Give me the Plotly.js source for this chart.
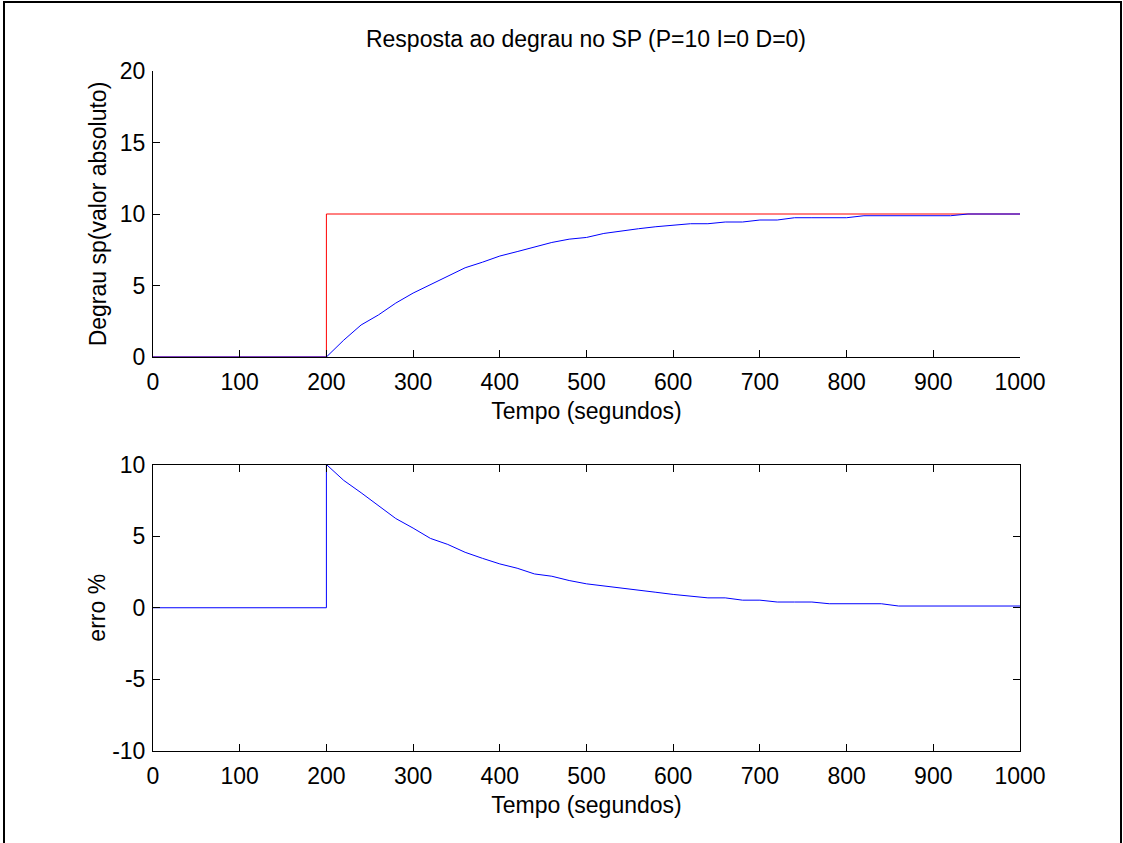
<!DOCTYPE html>
<html>
<head>
<meta charset="utf-8">
<script src="https://cdn.plot.ly/plotly-3.0.1.min.js"></script>
<style>
  html, body { margin: 0; padding: 0; background: #fff; }
  #wrap { position: relative; width: 1123px; height: 843px; }
  #chart { width: 1123px; height: 843px; }
  #frame { position: absolute; left: 3px; top: 1px; width: 1115px; height: 850px;
           border-left: 2px solid #000; border-top: 2px solid #000; border-right: 2px solid #000;
           pointer-events: none; }
</style>
</head>
<body>
<div id="wrap">
  <div id="chart"></div>
  <div id="frame"></div>
</div>
<script>
// ---- data ----
const spTime  = [0, 200, 200, 1000];
const spValue = [0, 0, 10, 10];

const respTime = [0, 100, 200, 220, 240, 260, 280, 300, 320, 340, 360, 380, 400, 420, 440, 460, 480, 500,
                  520, 540, 560, 580, 600, 620, 640, 660, 680, 700, 720, 740, 760, 780, 800,
                  820, 840, 860, 880, 900, 920, 940, 960, 980, 1000];
const respValue = [0, 0, 0, 1.18, 2.24, 2.94, 3.77, 4.47, 5.05, 5.65, 6.24, 6.63, 7.06, 7.37, 7.70, 8.01, 8.24, 8.36,
                   8.64, 8.83, 8.97, 9.11, 9.23, 9.32, 9.32, 9.44, 9.44, 9.58, 9.58, 9.74, 9.74, 9.74, 9.74,
                   9.88, 9.88, 9.88, 9.88, 9.88, 9.88, 10, 10, 10, 10];

const errTime = [0, 100, 200, 200, 220, 240, 260, 280, 300, 320, 340, 360, 380, 400, 420, 440, 460, 480, 500,
                 520, 540, 560, 580, 600, 620, 640, 660, 680, 700, 720, 740, 760, 780, 800,
                 820, 840, 860, 880, 900, 920, 940, 960, 980, 1000];
const errValue = [0, 0, 0, 10, 8.89, 8.03, 7.15, 6.23, 5.56, 4.84, 4.42, 3.87, 3.45, 3.06, 2.76, 2.36, 2.20, 1.90, 1.67,
                  1.53, 1.41, 1.24, 1.08, 0.93, 0.80, 0.69, 0.69, 0.53, 0.53, 0.40, 0.40, 0.40, 0.28, 0.28,
                  0.28, 0.28, 0.12, 0.12, 0.12, 0.12, 0.12, 0.12, 0.12, 0.12];

const xTicks = [0, 100, 200, 300, 400, 500, 600, 700, 800, 900, 1000];
const yTicksTop = [0, 5, 10, 15, 20];
const yTicksBottom = [-10, -5, 0, 5, 10];

const titleText = 'Resposta ao degrau no SP (P=10 I=0 D=0)';
const xLabel = 'Tempo (segundos)';
const yLabelTop = 'Degrau sp(valor absoluto)';
const yLabelBottom = 'erro %';

// ---- chart ----
const FONT = 'Liberation Sans, Arial, Helvetica, sans-serif';
const fnt = {family: FONT, size: 23, color: '#000'};

const traces = [
  {x: spTime, y: spValue, type: 'scatter', mode: 'lines', line: {color: '#ff0000', width: 1}, xaxis: 'x', yaxis: 'y', hoverinfo: 'skip'},
  {x: respTime, y: respValue, type: 'scatter', mode: 'lines', line: {color: '#0000ff', width: 1}, xaxis: 'x', yaxis: 'y', hoverinfo: 'skip'},
  {x: errTime, y: errValue, type: 'scatter', mode: 'lines', line: {color: '#0000ff', width: 1}, xaxis: 'x2', yaxis: 'y2', hoverinfo: 'skip'}
];

const W = 1123, H = 843;
const xDom = [153 / W, 1020 / W];

const commonX = {
  range: [0, 1000], tickvals: xTicks, ticktext: xTicks.map(String),
  ticks: 'inside', ticklen: 7, tickwidth: 1, tickcolor: '#000',
  showline: true, linecolor: '#000', linewidth: 1,
  showgrid: false, zeroline: false, tickfont: fnt, automargin: false,
  ticklabelstandoff: 4
};
const commonY = {
  ticks: 'inside', ticklen: 7, tickwidth: 1, tickcolor: '#000',
  showline: true, linecolor: '#000', linewidth: 1,
  showgrid: false, zeroline: false, tickfont: fnt, automargin: false,
  ticklabelstandoff: 2
};

const layout = {
  width: W, height: H,
  margin: {l: 0, r: 0, t: 0, b: 0},
  paper_bgcolor: '#fff', plot_bgcolor: '#fff',
  showlegend: false,
  font: fnt,
  title: {text: titleText, font: fnt, x: 586 / W, xanchor: 'center', y: 1 - 39 / H, yanchor: 'middle'},
  xaxis: Object.assign({}, commonX, {domain: xDom, anchor: 'y', mirror: false,
          title: {text: xLabel, font: fnt, standoff: 9}}),
  yaxis: Object.assign({}, commonY, {domain: [1 - 357 / H, 1 - 71 / H], anchor: 'x', range: [0, 20],
          tickvals: yTicksTop, ticktext: yTicksTop.map(String), mirror: false,
          title: {text: yLabelTop, font: fnt, standoff: 6}}),
  xaxis2: Object.assign({}, commonX, {domain: xDom, anchor: 'y2', mirror: 'ticks',
          title: {text: xLabel, font: fnt, standoff: 9}}),
  yaxis2: Object.assign({}, commonY, {domain: [1 - 751 / H, 1 - 464.5 / H], anchor: 'x2', range: [-10, 10],
          tickvals: yTicksBottom, ticktext: yTicksBottom.map(String), mirror: 'ticks',
          title: {text: yLabelBottom, font: fnt, standoff: 0}})
};

Plotly.newPlot('chart', traces, layout, {staticPlot: true, displayModeBar: false});
</script>
</body>
</html>
